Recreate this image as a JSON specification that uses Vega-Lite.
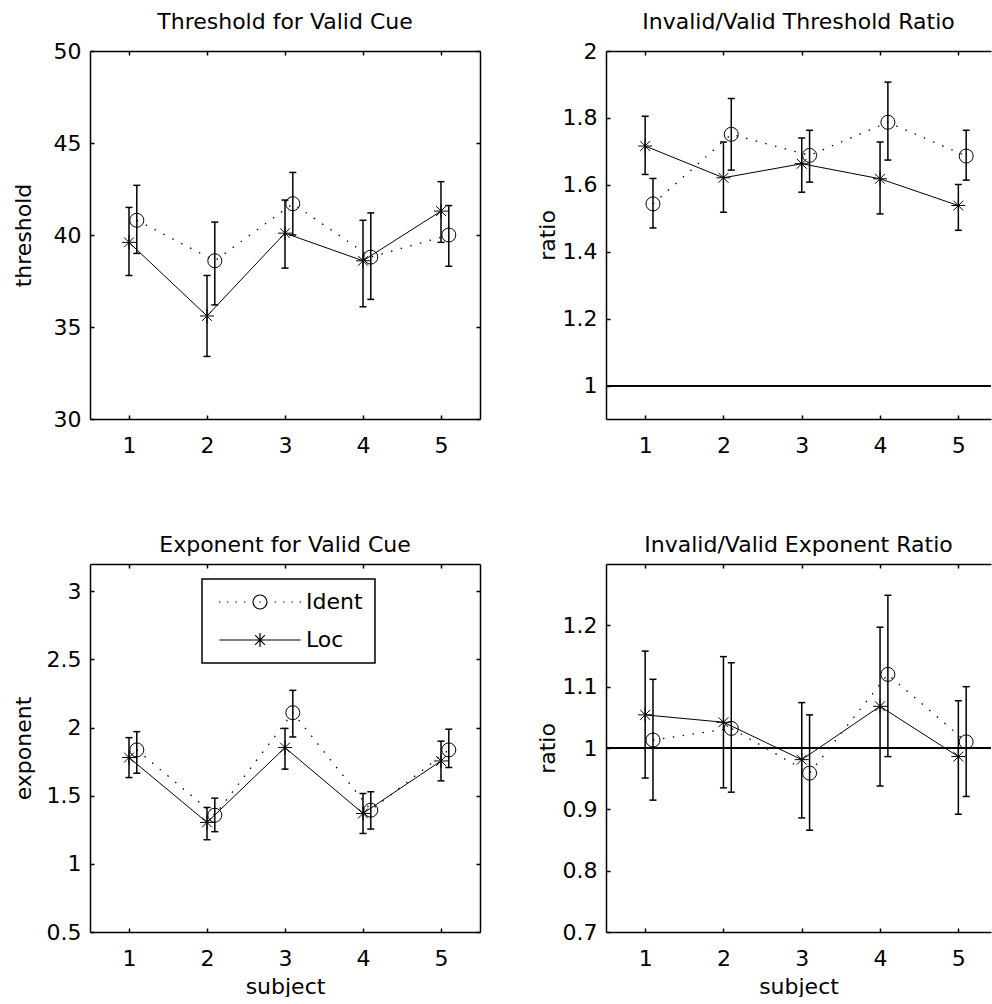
{
"$schema": "https://vega.github.io/schema/vega-lite/v6.json",
"padding": {"left": 12, "top": 11, "right": 0, "bottom": 0},
"background": "white",
"columns": 2,
"spacing": {"row": 145, "column": 126},
"bounds": "flush",
"resolve": {"scale": {"shape": "independent"}, "legend": {"shape": "independent"}},
"config": {
  "view": {"stroke": null},
  "font": "DejaVu Sans",
  "axis": {"labelFont": "DejaVu Sans", "labelFontSize": 22, "labelColor": "#000", "titleFont": "DejaVu Sans", "titleFontSize": 22, "titleFontWeight": "normal", "titleColor": "#000", "domainColor": "#000", "domainWidth": 1.5, "tickColor": "#000", "tickWidth": 1.5, "tickSize": -4, "grid": false, "labelFlush": false, "labelOverlap": false, "format": "~g"},
  "axisX": {"labelPadding": 20, "titlePadding": 7},
  "axisY": {"labelPadding": 13, "titlePadding": 3},
  "title": {"font": "DejaVu Sans", "fontSize": 22, "fontWeight": "normal", "color": "#000", "offset": 6},
  "legend": {"strokeWidth": 1.5}
},
"datasets": {
  "thr": [
    {"subject": 1, "series": "Ident", "x": 1.1, "value": 40.8, "lo": 39.0, "hi": 42.7},
    {"subject": 2, "series": "Ident", "x": 2.1, "value": 38.6, "lo": 36.2, "hi": 40.7},
    {"subject": 3, "series": "Ident", "x": 3.1, "value": 41.7, "lo": 40.0, "hi": 43.4},
    {"subject": 4, "series": "Ident", "x": 4.1, "value": 38.8, "lo": 36.5, "hi": 41.2},
    {"subject": 5, "series": "Ident", "x": 5.1, "value": 40.0, "lo": 38.3, "hi": 41.6},
    {"subject": 1, "series": "Loc", "x": 1, "value": 39.6, "lo": 37.8, "hi": 41.5},
    {"subject": 2, "series": "Loc", "x": 2, "value": 35.6, "lo": 33.4, "hi": 37.8},
    {"subject": 3, "series": "Loc", "x": 3, "value": 40.1, "lo": 38.2, "hi": 41.9},
    {"subject": 4, "series": "Loc", "x": 4, "value": 38.6, "lo": 36.1, "hi": 40.8},
    {"subject": 5, "series": "Loc", "x": 5, "value": 41.3, "lo": 39.6, "hi": 42.9}
  ],
  "rthr": [
    {"subject": 1, "series": "Ident", "x": 1.1, "value": 1.543, "lo": 1.471, "hi": 1.619},
    {"subject": 2, "series": "Ident", "x": 2.1, "value": 1.751, "lo": 1.644, "hi": 1.858},
    {"subject": 3, "series": "Ident", "x": 3.1, "value": 1.688, "lo": 1.608, "hi": 1.763},
    {"subject": 4, "series": "Ident", "x": 4.1, "value": 1.787, "lo": 1.674, "hi": 1.907},
    {"subject": 5, "series": "Ident", "x": 5.1, "value": 1.686, "lo": 1.614, "hi": 1.763},
    {"subject": 1, "series": "Loc", "x": 1, "value": 1.716, "lo": 1.631, "hi": 1.805},
    {"subject": 2, "series": "Loc", "x": 2, "value": 1.621, "lo": 1.518, "hi": 1.728},
    {"subject": 3, "series": "Loc", "x": 3, "value": 1.663, "lo": 1.578, "hi": 1.740},
    {"subject": 4, "series": "Loc", "x": 4, "value": 1.618, "lo": 1.513, "hi": 1.728},
    {"subject": 5, "series": "Loc", "x": 5, "value": 1.538, "lo": 1.464, "hi": 1.601}
  ],
  "exp": [
    {"subject": 1, "series": "Ident", "x": 1.1, "value": 1.836, "lo": 1.665, "hi": 1.970},
    {"subject": 2, "series": "Ident", "x": 2.1, "value": 1.357, "lo": 1.236, "hi": 1.482},
    {"subject": 3, "series": "Ident", "x": 3.1, "value": 2.109, "lo": 1.931, "hi": 2.273},
    {"subject": 4, "series": "Ident", "x": 4.1, "value": 1.394, "lo": 1.255, "hi": 1.529},
    {"subject": 5, "series": "Ident", "x": 5.1, "value": 1.836, "lo": 1.707, "hi": 1.988},
    {"subject": 1, "series": "Loc", "x": 1, "value": 1.780, "lo": 1.633, "hi": 1.926},
    {"subject": 2, "series": "Loc", "x": 2, "value": 1.304, "lo": 1.177, "hi": 1.414},
    {"subject": 3, "series": "Loc", "x": 3, "value": 1.853, "lo": 1.695, "hi": 1.994},
    {"subject": 4, "series": "Loc", "x": 4, "value": 1.370, "lo": 1.223, "hi": 1.516},
    {"subject": 5, "series": "Loc", "x": 5, "value": 1.755, "lo": 1.609, "hi": 1.900}
  ],
  "rexp": [
    {"subject": 1, "series": "Ident", "x": 1.1, "value": 1.013, "lo": 0.915, "hi": 1.112},
    {"subject": 2, "series": "Ident", "x": 2.1, "value": 1.032, "lo": 0.928, "hi": 1.139},
    {"subject": 3, "series": "Ident", "x": 3.1, "value": 0.959, "lo": 0.866, "hi": 1.054},
    {"subject": 4, "series": "Ident", "x": 4.1, "value": 1.120, "lo": 0.986, "hi": 1.249},
    {"subject": 5, "series": "Ident", "x": 5.1, "value": 1.010, "lo": 0.921, "hi": 1.100},
    {"subject": 1, "series": "Loc", "x": 1, "value": 1.054, "lo": 0.951, "hi": 1.158},
    {"subject": 2, "series": "Loc", "x": 2, "value": 1.042, "lo": 0.935, "hi": 1.149},
    {"subject": 3, "series": "Loc", "x": 3, "value": 0.981, "lo": 0.886, "hi": 1.074},
    {"subject": 4, "series": "Loc", "x": 4, "value": 1.068, "lo": 0.938, "hi": 1.197},
    {"subject": 5, "series": "Loc", "x": 5, "value": 0.986, "lo": 0.892, "hi": 1.077}
  ]
},
"concat": [
  {
    "width": 390, "height": 368,
    "title": {"text": "Threshold for Valid Cue"},
    "data": {"name": "thr"},
    "resolve": {"axis": {"x": "independent", "y": "independent"}},
    "layer": [
      {"mark": {"type": "rule", "strokeWidth": 1.5, "color": "#000"},
       "encoding": {
         "x": {"field": "x", "type": "quantitative", "scale": {"domain": [0.5, 5.5], "nice": false, "zero": false}, "axis": {"orient": "bottom", "values": [1, 2, 3, 4, 5], "title": null}},
         "y": {"field": "lo", "type": "quantitative", "scale": {"domain": [30, 50], "nice": false, "zero": false}, "axis": {"orient": "left", "values": [30, 35, 40, 45, 50], "title": "threshold", "titleX": -60, "titleBaseline": "alphabetic"}},
         "y2": {"field": "hi"}}},
      {"mark": {"type": "tick", "orient": "horizontal", "size": 7, "thickness": 1.5, "color": "#000", "opacity": 1},
       "encoding": {"x": {"field": "x", "type": "quantitative", "axis": null}, "y": {"field": "lo", "type": "quantitative", "axis": null}}},
      {"mark": {"type": "tick", "orient": "horizontal", "size": 7, "thickness": 1.5, "color": "#000", "opacity": 1},
       "encoding": {"x": {"field": "x", "type": "quantitative", "axis": {"orient": "top", "values": [1, 2, 3, 4, 5], "labels": false, "title": null}}, "y": {"field": "hi", "type": "quantitative", "axis": {"orient": "right", "values": [30, 35, 40, 45, 50], "labels": false, "title": null}}}},
      {"transform": [{"filter": {"field": "series", "equal": "Ident"}}],
       "mark": {"type": "line", "color": "#000", "strokeWidth": 1.3, "strokeDash": [1.5, 8.5]},
       "encoding": {"x": {"field": "x", "type": "quantitative", "axis": null}, "y": {"field": "value", "type": "quantitative", "axis": null}}},
      {"transform": [{"filter": {"field": "series", "equal": "Loc"}}],
       "mark": {"type": "line", "color": "#000", "strokeWidth": 1},
       "encoding": {"x": {"field": "x", "type": "quantitative", "axis": null}, "y": {"field": "value", "type": "quantitative", "axis": null}}},
      {"transform": [{"filter": {"field": "series", "equal": "Ident"}}],
       "mark": {"type": "point", "shape": "circle", "filled": false, "color": "#000", "size": 196, "strokeWidth": 1, "opacity": 1},
       "encoding": {"x": {"field": "x", "type": "quantitative", "axis": null}, "y": {"field": "value", "type": "quantitative", "axis": null}}},
      {"transform": [{"filter": {"field": "series", "equal": "Loc"}}],
       "mark": {"type": "point", "shape": "M-1,0H1M0,-1V1M-0.7,-0.7L0.7,0.7M-0.7,0.7L0.7,-0.7", "filled": false, "color": "#000", "size": 196, "strokeWidth": 1, "opacity": 1},
       "encoding": {"x": {"field": "x", "type": "quantitative", "axis": null}, "y": {"field": "value", "type": "quantitative", "axis": null}}}
    ]
  },
  {
    "width": 385, "height": 368,
    "title": {"text": "Invalid/Valid Threshold Ratio"},
    "data": {"name": "rthr"},
    "resolve": {"axis": {"x": "independent", "y": "independent"}},
    "layer": [
      {"mark": {"type": "rule", "strokeWidth": 1.5, "color": "#000"},
       "encoding": {
         "x": {"field": "x", "type": "quantitative", "scale": {"domain": [0.5, 5.417], "nice": false, "zero": false}, "axis": {"orient": "bottom", "values": [1, 2, 3, 4, 5], "title": null}},
         "y": {"field": "lo", "type": "quantitative", "scale": {"domain": [0.9, 2], "nice": false, "zero": false}, "axis": {"orient": "left", "values": [1, 1.2, 1.4, 1.6, 1.8, 2], "title": "ratio"}},
         "y2": {"field": "hi"}}},
      {"mark": {"type": "tick", "orient": "horizontal", "size": 7, "thickness": 1.5, "color": "#000", "opacity": 1},
       "encoding": {"x": {"field": "x", "type": "quantitative", "axis": null}, "y": {"field": "lo", "type": "quantitative", "axis": null}}},
      {"mark": {"type": "tick", "orient": "horizontal", "size": 7, "thickness": 1.5, "color": "#000", "opacity": 1},
       "encoding": {"x": {"field": "x", "type": "quantitative", "axis": {"orient": "top", "values": [1, 2, 3, 4, 5], "labels": false, "title": null}}, "y": {"field": "hi", "type": "quantitative", "axis": null}}},
      {"mark": {"type": "rule", "strokeWidth": 1.3, "color": "#000"},
       "encoding": {"y": {"datum": 1, "type": "quantitative", "axis": null}}},
      {"transform": [{"filter": {"field": "series", "equal": "Ident"}}],
       "mark": {"type": "line", "color": "#000", "strokeWidth": 1.3, "strokeDash": [1.5, 8.5]},
       "encoding": {"x": {"field": "x", "type": "quantitative", "axis": null}, "y": {"field": "value", "type": "quantitative", "axis": null}}},
      {"transform": [{"filter": {"field": "series", "equal": "Loc"}}],
       "mark": {"type": "line", "color": "#000", "strokeWidth": 1},
       "encoding": {"x": {"field": "x", "type": "quantitative", "axis": null}, "y": {"field": "value", "type": "quantitative", "axis": null}}},
      {"transform": [{"filter": {"field": "series", "equal": "Ident"}}],
       "mark": {"type": "point", "shape": "circle", "filled": false, "color": "#000", "size": 196, "strokeWidth": 1, "opacity": 1},
       "encoding": {"x": {"field": "x", "type": "quantitative", "axis": null}, "y": {"field": "value", "type": "quantitative", "axis": null}}},
      {"transform": [{"filter": {"field": "series", "equal": "Loc"}}],
       "mark": {"type": "point", "shape": "M-1,0H1M0,-1V1M-0.7,-0.7L0.7,0.7M-0.7,0.7L0.7,-0.7", "filled": false, "color": "#000", "size": 196, "strokeWidth": 1, "opacity": 1},
       "encoding": {"x": {"field": "x", "type": "quantitative", "axis": null}, "y": {"field": "value", "type": "quantitative", "axis": null}}}
    ]
  },
  {
    "width": 390, "height": 368,
    "title": {"text": "Exponent for Valid Cue"},
    "data": {"name": "exp"},
    "resolve": {"axis": {"x": "independent", "y": "independent"}},
    "layer": [
      {"mark": {"type": "rule", "strokeWidth": 1.5, "color": "#000"},
       "encoding": {
         "x": {"field": "x", "type": "quantitative", "scale": {"domain": [0.5, 5.5], "nice": false, "zero": false}, "axis": {"orient": "bottom", "values": [1, 2, 3, 4, 5], "title": "subject"}},
         "y": {"field": "lo", "type": "quantitative", "scale": {"domain": [0.5, 3.2], "nice": false, "zero": false}, "axis": {"orient": "left", "values": [0.5, 1, 1.5, 2, 2.5, 3], "title": "exponent", "titleX": -60, "titleBaseline": "alphabetic"}},
         "y2": {"field": "hi"}}},
      {"mark": {"type": "tick", "orient": "horizontal", "size": 7, "thickness": 1.5, "color": "#000", "opacity": 1},
       "encoding": {"x": {"field": "x", "type": "quantitative", "axis": null}, "y": {"field": "lo", "type": "quantitative", "axis": null}}},
      {"mark": {"type": "tick", "orient": "horizontal", "size": 7, "thickness": 1.5, "color": "#000", "opacity": 1},
       "encoding": {"x": {"field": "x", "type": "quantitative", "axis": {"orient": "top", "values": [1, 2, 3, 4, 5], "labels": false, "title": null}}, "y": {"field": "hi", "type": "quantitative", "axis": {"orient": "right", "values": [0.5, 1, 1.5, 2, 2.5, 3], "labels": false, "title": null}}}},
      {"transform": [{"filter": {"field": "series", "equal": "Ident"}}],
       "mark": {"type": "line", "color": "#000", "strokeWidth": 1.3, "strokeDash": [1.5, 8.5]},
       "encoding": {"x": {"field": "x", "type": "quantitative", "axis": null}, "y": {"field": "value", "type": "quantitative", "axis": null}}},
      {"transform": [{"filter": {"field": "series", "equal": "Loc"}}],
       "mark": {"type": "line", "color": "#000", "strokeWidth": 1},
       "encoding": {"x": {"field": "x", "type": "quantitative", "axis": null}, "y": {"field": "value", "type": "quantitative", "axis": null}}},
      {"transform": [{"filter": {"field": "series", "equal": "Ident"}}],
       "mark": {"type": "point", "shape": "circle", "filled": false, "color": "#000", "size": 196, "strokeWidth": 1, "opacity": 1},
       "encoding": {"x": {"field": "x", "type": "quantitative", "axis": null}, "y": {"field": "value", "type": "quantitative", "axis": null}}},
      {"transform": [{"filter": {"field": "series", "equal": "Loc"}}],
       "mark": {"type": "point", "shape": "M-1,0H1M0,-1V1M-0.7,-0.7L0.7,0.7M-0.7,0.7L0.7,-0.7", "filled": false, "color": "#000", "size": 196, "strokeWidth": 1, "opacity": 1},
       "encoding": {"x": {"field": "x", "type": "quantitative", "axis": null}, "y": {"field": "value", "type": "quantitative", "axis": null}}},
      {"transform": [{"filter": {"field": "series", "equal": "legend-only"}}],
       "mark": {"type": "point", "filled": false, "color": "#000", "size": 196, "strokeWidth": 1.2, "opacity": 1},
       "encoding": {"x": {"field": "x", "type": "quantitative", "axis": null}, "y": {"field": "value", "type": "quantitative", "axis": null},
         "shape": {"field": "series", "type": "nominal",
           "scale": {"domain": ["Ident", "Loc"], "range": ["M-5.86,0h0.2M-4.71,0h0.2M-3.5,0h0.2M-2.29,0h0.2M2.1,0h0.2M3.3,0h0.2M4.5,0h0.2M5.66,0h0.2M-0.1,0h0.2M1,0A1,1,0,1,1,-1,0A1,1,0,1,1,1,0", "M-5.8,0H5.8M0,-1V1M-0.7,-0.7L0.7,0.7M-0.7,0.7L0.7,-0.7"]},
           "legend": {"orient": "none", "legendX": 112, "legendY": 15, "title": null, "strokeColor": "#000", "fillColor": "white", "padding": 12, "symbolSize": 196, "symbolStrokeWidth": 1.2, "symbolStrokeColor": "#000", "symbolFillColor": "transparent", "symbolOffset": 35, "labelOffset": 35, "rowPadding": 16, "labelFont": "DejaVu Sans", "labelFontSize": 22, "labelColor": "#000"}}}}
    ]
  },
  {
    "width": 385, "height": 368,
    "title": {"text": "Invalid/Valid Exponent Ratio"},
    "data": {"name": "rexp"},
    "resolve": {"axis": {"x": "independent", "y": "independent"}},
    "layer": [
      {"mark": {"type": "rule", "strokeWidth": 1.5, "color": "#000"},
       "encoding": {
         "x": {"field": "x", "type": "quantitative", "scale": {"domain": [0.5, 5.417], "nice": false, "zero": false}, "axis": {"orient": "bottom", "values": [1, 2, 3, 4, 5], "title": "subject"}},
         "y": {"field": "lo", "type": "quantitative", "scale": {"domain": [0.7, 1.3], "nice": false, "zero": false}, "axis": {"orient": "left", "values": [0.7, 0.8, 0.9, 1, 1.1, 1.2], "title": "ratio"}},
         "y2": {"field": "hi"}}},
      {"mark": {"type": "tick", "orient": "horizontal", "size": 7, "thickness": 1.5, "color": "#000", "opacity": 1},
       "encoding": {"x": {"field": "x", "type": "quantitative", "axis": null}, "y": {"field": "lo", "type": "quantitative", "axis": null}}},
      {"mark": {"type": "tick", "orient": "horizontal", "size": 7, "thickness": 1.5, "color": "#000", "opacity": 1},
       "encoding": {"x": {"field": "x", "type": "quantitative", "axis": {"orient": "top", "values": [1, 2, 3, 4, 5], "labels": false, "title": null}}, "y": {"field": "hi", "type": "quantitative", "axis": null}}},
      {"mark": {"type": "rule", "strokeWidth": 1.3, "color": "#000"},
       "encoding": {"y": {"datum": 1, "type": "quantitative", "axis": null}}},
      {"transform": [{"filter": {"field": "series", "equal": "Ident"}}],
       "mark": {"type": "line", "color": "#000", "strokeWidth": 1.3, "strokeDash": [1.5, 8.5]},
       "encoding": {"x": {"field": "x", "type": "quantitative", "axis": null}, "y": {"field": "value", "type": "quantitative", "axis": null}}},
      {"transform": [{"filter": {"field": "series", "equal": "Loc"}}],
       "mark": {"type": "line", "color": "#000", "strokeWidth": 1},
       "encoding": {"x": {"field": "x", "type": "quantitative", "axis": null}, "y": {"field": "value", "type": "quantitative", "axis": null}}},
      {"transform": [{"filter": {"field": "series", "equal": "Ident"}}],
       "mark": {"type": "point", "shape": "circle", "filled": false, "color": "#000", "size": 196, "strokeWidth": 1, "opacity": 1},
       "encoding": {"x": {"field": "x", "type": "quantitative", "axis": null}, "y": {"field": "value", "type": "quantitative", "axis": null}}},
      {"transform": [{"filter": {"field": "series", "equal": "Loc"}}],
       "mark": {"type": "point", "shape": "M-1,0H1M0,-1V1M-0.7,-0.7L0.7,0.7M-0.7,0.7L0.7,-0.7", "filled": false, "color": "#000", "size": 196, "strokeWidth": 1, "opacity": 1},
       "encoding": {"x": {"field": "x", "type": "quantitative", "axis": null}, "y": {"field": "value", "type": "quantitative", "axis": null}}}
    ]
  }
]
}
